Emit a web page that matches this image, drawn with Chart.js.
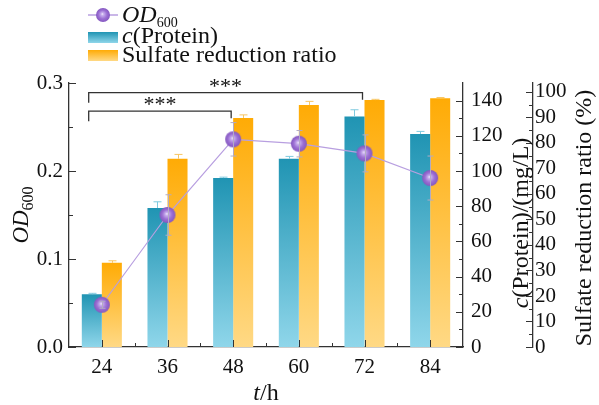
<!DOCTYPE html>
<html>
<head>
<meta charset="utf-8">
<script src="https://cdn.jsdelivr.net/npm/chart.js@4.4.1/dist/chart.umd.min.js"></script>
<style>
  html, body { margin: 0; padding: 0; background: #fff; }
  #wrap { width: 599px; height: 405px; }
</style>
</head>
<body>
<div id="wrap"><canvas id="chart" width="599" height="405"></canvas></div>
<script>
// data
const hours = ['24', '36', '48', '60', '72', '84'];
const od600 = [0.048, 0.150, 0.236, 0.231, 0.220, 0.192];
const od600Err = [0.004, 0.023, 0.019, 0.015, 0.021, 0.025];
const protein = [30, 79, 96, 107, 131, 121];          // mg/L
const proteinErr = [0.5, 3.5, 0.5, 1.3, 3.8, 1.5];
const sulfate = [33.0, 73.8, 89.8, 94.9, 96.8, 97.5];  // %
const sulfateErr = [0.8, 1.7, 1.2, 1.4, 0.3, 0.3];

const odTicks = [0, 0.1, 0.2, 0.3];
const proteinTicks = [0, 20, 40, 60, 80, 100, 120, 140];
const sulfateTicks = [0, 10, 20, 30, 40, 50, 60, 70, 80, 90, 100];

// significance brackets: [from index, to index, label]
const brackets = [
    { from: 0, to: 4, label: '***', od: 0.289 },
    { from: 0, to: 2, label: '***', od: 0.268 }
];

const SERIF = '"Liberation Serif", "Times New Roman", serif';
const AXIS = '#333333';

const BLUE = ['#2094b3', '#8fd6ea'];
const ORANGE = ['#ffab05', '#ffd985'];

// gradient per bar, dark on top, light at the base
function barFill(colors) {
    return function (ctx) {
        const chart = ctx.chart;
        if (!chart.chartArea || ctx.type !== 'data') return colors[0];
        const scale = chart.scales[ctx.dataset.yAxisID];
        const top = scale.getPixelForValue(ctx.parsed.y);
        const base = scale.getPixelForValue(0);
        const g = chart.ctx.createLinearGradient(0, top, 0, base);
        g.addColorStop(0, colors[0]);
        g.addColorStop(1, colors[1]);
        return g;
    };
}

// purple sphere used as the point marker
function makeSphere(r) {
    const c = document.createElement('canvas');
    c.width = c.height = r * 2 + 2;
    const x = c.getContext('2d');
    const cx = r + 1, cy = r + 1;
    const g = x.createRadialGradient(cx - r * 0.1, cy - r * 0.15, 0, cx, cy, r);
    g.addColorStop(0, '#f4eefc');
    g.addColorStop(0.18, '#c9b0ee');
    g.addColorStop(0.6, '#9c70d4');
    g.addColorStop(1, '#8457c0');
    x.fillStyle = g;
    x.beginPath();
    x.arc(cx, cy, r, 0, Math.PI * 2);
    x.fill();
    return c;
}
const sphere = makeSphere(8);
const sphereSmall = makeSphere(7);

// draws inward tick marks for every axis
function drawTicks(chart) {
    const { ctx, chartArea, scales } = chart;
    ctx.save();
    ctx.strokeStyle = AXIS;
    ctx.lineWidth = 1;
    const tickY = (scale, x, values, len, dir) => {
        values.forEach(v => {
            const y = Math.round(scale.getPixelForValue(v)) + 0.5;
            ctx.beginPath();
            ctx.moveTo(x, y);
            ctx.lineTo(x + dir * len, y);
            ctx.stroke();
        });
    };
    const minors = (max, step) => {
        const out = [];
        for (let v = step; v < max; v += step * 2) out.push(v);
        return out;
    };
    const yl = scales.y, y1 = scales.y1, y2 = scales.y2;
    tickY(yl, yl.right, odTicks, 7, 1);
    tickY(yl, yl.right, minors(0.3, 0.05), 4, 1);
    tickY(y1, y1.left, proteinTicks, 7, -1);
    tickY(y1, y1.left, minors(150, 10), 4, -1);
    tickY(y2, y2.left, sulfateTicks, 7, -1);
    tickY(y2, y2.left, minors(103, 5), 4, -1);

    const x = scales.x;
    const yb = chartArea.bottom;
    hours.forEach((h, i) => {
        const px = Math.round(x.getPixelForValue(i)) + 0.5;
        ctx.beginPath(); ctx.moveTo(px, yb); ctx.lineTo(px, yb - 7); ctx.stroke();
        if (i < hours.length - 1) {
            const pm = Math.round((x.getPixelForValue(i) + x.getPixelForValue(i + 1)) / 2) + 0.5;
            ctx.beginPath(); ctx.moveTo(pm, yb); ctx.lineTo(pm, yb - 4); ctx.stroke();
        }
    });
    ctx.restore();
}

// error bars drawn right after each dataset
const errorBars = {
    id: 'errorBars',
    afterDatasetDraw(chart, args) {
        const ds = chart.data.datasets[args.index];
        if (!ds.errors) return;
        const meta = args.meta;
        const scale = chart.scales[ds.yAxisID];
        const ctx = chart.ctx;
        ctx.save();
        ctx.strokeStyle = ds.errorColor;
        ctx.lineWidth = 1;
        meta.data.forEach((el, i) => {
            const v = ds.data[i], e = ds.errors[i];
            const x = Math.round(el.x) + 0.5;
            const yt = scale.getPixelForValue(v + e);
            const yb = scale.getPixelForValue(v - e);
            const w = ds.capWidth;
            ctx.beginPath();
            ctx.moveTo(x, yt); ctx.lineTo(x, ds.type === 'bar' ? el.y : yb);
            ctx.moveTo(x - w, yt); ctx.lineTo(x + w, yt);
            if (ds.type !== 'bar') { ctx.moveTo(x - w, yb); ctx.lineTo(x + w, yb); }
            ctx.stroke();
        });
        ctx.restore();
    }
};

// text with an italic part and an optional subscript
function richText(ctx, parts, x, y, align) {
    let total = 0;
    parts.forEach(p => { ctx.font = p.font; p.w = ctx.measureText(p.text).width; total += p.w; });
    let cx = align === 'center' ? x - total / 2 : x;
    ctx.textAlign = 'left';
    ctx.textBaseline = 'alphabetic';
    parts.forEach(p => {
        ctx.font = p.font;
        ctx.fillText(p.text, cx, y + (p.dy || 0));
        cx += p.w;
    });
}

const decorations = {
    id: 'decorations',
    afterDraw(chart) {
        const { ctx, chartArea, scales } = chart;
        drawTicks(chart);
        ctx.save();
        ctx.fillStyle = '#111';

        // axis titles
        const midY = (chartArea.top + chartArea.bottom) / 2;
        ctx.save();
        ctx.translate(28, midY);
        ctx.rotate(-Math.PI / 2);
        richText(ctx, [
            { text: 'OD', font: 'italic 23px ' + SERIF },
            { text: '600', font: '16px ' + SERIF, dy: 5 }
        ], 0, 0, 'center');
        ctx.restore();

        ctx.save();
        ctx.translate(528, midY + 8);
        ctx.rotate(-Math.PI / 2);
        richText(ctx, [
            { text: 'c', font: 'italic 24px ' + SERIF },
            { text: '(Protein)/(mg/L)', font: '24px ' + SERIF }
        ], 0, 0, 'center');
        ctx.restore();

        ctx.save();
        ctx.translate(591, midY + 3);
        ctx.rotate(-Math.PI / 2);
        richText(ctx, [{ text: 'Sulfate reduction ratio (%)', font: '24px ' + SERIF }], 0, 0, 'center');
        ctx.restore();

        richText(ctx, [
            { text: 't', font: 'italic 24px ' + SERIF },
            { text: '/h', font: '24px ' + SERIF }
        ], (chartArea.left + chartArea.right) / 2, 400, 'center');

        // significance brackets
        const x = scales.x, y = scales.y;
        const step = x.getPixelForValue(1) - x.getPixelForValue(0);
        ctx.strokeStyle = AXIS;
        ctx.lineWidth = 1.3;
        brackets.forEach(b => {
            const x0 = x.getPixelForValue(b.from) - step * 0.2;
            const x1 = x.getPixelForValue(b.to) - 2;
            const yy = y.getPixelForValue(b.od);
            ctx.beginPath();
            ctx.moveTo(x0, yy + 10); ctx.lineTo(x0, yy);
            ctx.lineTo(x1, yy); ctx.lineTo(x1, yy + 7);
            ctx.stroke();
            ctx.font = '22px ' + SERIF;
            ctx.textAlign = 'center';
            ctx.textBaseline = 'alphabetic';
            ctx.fillText(b.label, (x0 + x1) / 2, yy);
        });

        // legend
        ctx.strokeStyle = '#b89fe0';
        ctx.lineWidth = 1.5;
        ctx.beginPath(); ctx.moveTo(88, 15); ctx.lineTo(118, 15); ctx.stroke();
        ctx.drawImage(sphereSmall, 103 - 8, 15 - 8);
        richText(ctx, [
            { text: 'OD', font: 'italic 24px ' + SERIF },
            { text: '600', font: '14px ' + SERIF, dy: 5 }
        ], 122, 22, 'left');

        const box = (y0, colors) => {
            const g = ctx.createLinearGradient(0, y0, 0, y0 + 11);
            g.addColorStop(0, colors[0]);
            g.addColorStop(1, colors[1]);
            ctx.fillStyle = g;
            ctx.fillRect(88, y0, 30, 11);
        };
        box(32, BLUE);
        box(50, ORANGE);
        ctx.fillStyle = '#111';
        richText(ctx, [
            { text: 'c', font: 'italic 24px ' + SERIF },
            { text: '(Protein)', font: '24px ' + SERIF }
        ], 122, 43, 'left');
        richText(ctx, [{ text: 'Sulfate reduction ratio', font: '24px ' + SERIF }], 122, 62, 'left');
        ctx.restore();
    }
};

const setTicks = values => scale => { scale.ticks = values.map(v => ({ value: v })); };
const tickFont = { family: SERIF, size: 21 };

new Chart(document.getElementById('chart'), {
    data: {
        labels: hours,
        datasets: [
            {
                type: 'line',
                label: 'OD600',
                data: od600,
                yAxisID: 'y',
                borderColor: '#b89fe0',
                borderWidth: 1.2,
                pointStyle: sphere,
                pointRadius: 8,
                pointHoverRadius: 8,
                errors: od600Err,
                errorColor: '#b3abc4',
                capWidth: 3,
                order: 0
            },
            {
                type: 'bar',
                label: 'c(Protein)',
                data: protein,
                yAxisID: 'y1',
                backgroundColor: barFill(BLUE),
                errors: proteinErr,
                errorColor: '#7fcadf',
                capWidth: 4,
                categoryPercentage: 0.61,
                barPercentage: 1.0,
                order: 1
            },
            {
                type: 'bar',
                label: 'Sulfate reduction ratio',
                data: sulfate,
                yAxisID: 'y2',
                backgroundColor: barFill(ORANGE),
                errors: sulfateErr,
                errorColor: '#f8c662',
                capWidth: 4,
                categoryPercentage: 0.61,
                barPercentage: 1.0,
                order: 2
            }
        ]
    },
    options: {
        responsive: false,
        animation: false,
        events: [],
        layout: { padding: { top: 83, right: 0, bottom: 0, left: 0 } },
        plugins: {
            legend: { display: false },
            tooltip: { enabled: false }
        },
        scales: {
            x: {
                grid: { display: false, drawTicks: false, tickLength: 0 },
                border: { color: AXIS, width: 1.3 },
                ticks: { font: tickFont, color: '#111', padding: 8, maxRotation: 0, autoSkip: false },
                afterFit(scale) { scale.height = 58; }
            },
            y: {
                position: 'left',
                min: 0,
                max: 0.3,
                afterBuildTicks: setTicks(odTicks),
                grid: { display: false, drawTicks: false, tickLength: 0 },
                border: { color: AXIS, width: 1.3 },
                ticks: { font: tickFont, color: '#111', padding: 6, autoSkip: false, callback: v => v.toFixed(1) },
                afterFit(scale) { scale.width = 69; }
            },
            y1: {
                position: 'right',
                weight: 1,
                min: 0,
                max: 150,
                afterBuildTicks: setTicks(proteinTicks),
                grid: { display: false, drawTicks: false, tickLength: 0 },
                border: { color: AXIS, width: 1.3 },
                ticks: { font: tickFont, color: '#111', padding: 8, autoSkip: false },
                afterFit(scale) { scale.width = 70; }
            },
            y2: {
                position: 'right',
                weight: 2,
                min: 0,
                max: 103.5,
                afterBuildTicks: setTicks(sulfateTicks),
                grid: { display: false, drawTicks: false, tickLength: 0 },
                border: { color: AXIS, width: 1.3 },
                ticks: { font: tickFont, color: '#111', padding: 2, autoSkip: false },
                afterFit(scale) { scale.width = 66; }
            }
        }
    },
    plugins: [errorBars, decorations]
});
</script>
</body>
</html>
